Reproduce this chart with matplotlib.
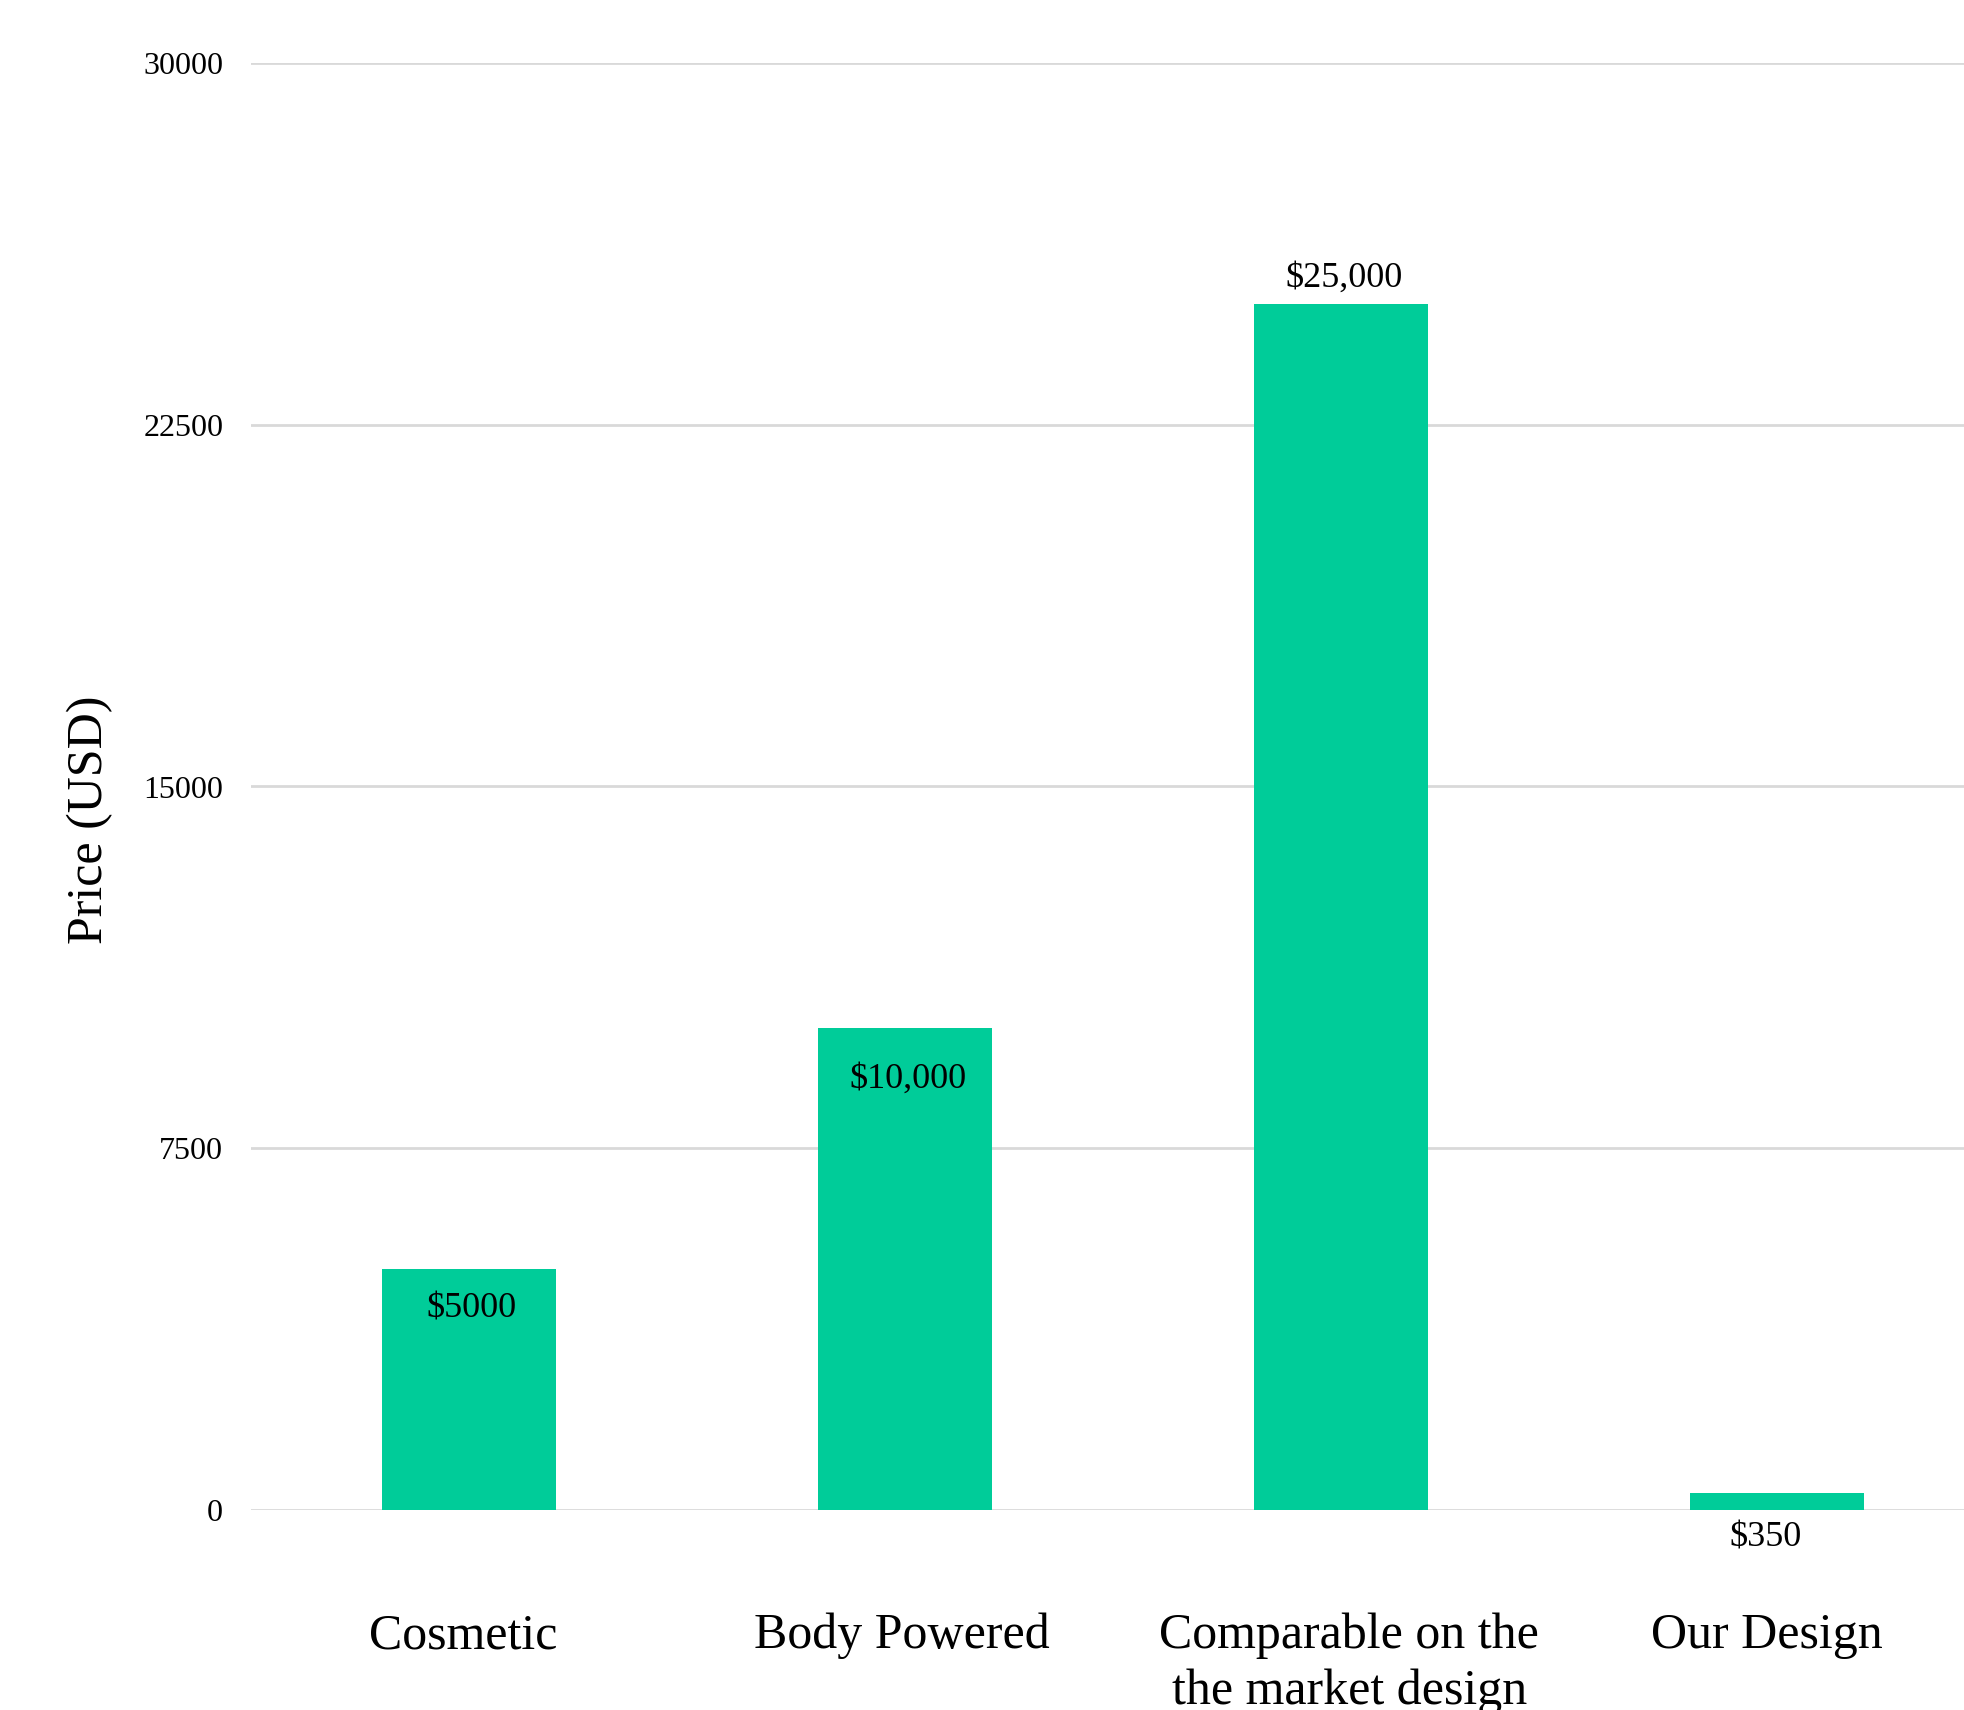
import matplotlib.pyplot as plt
from matplotlib.transforms import ScaledTranslation

categories = ["Cosmetic", "Body Powered", "Comparable on the\nthe market design", "Our Design"]
prices = [5000, 10000, 25000, 350]
price_labels = ["$5000", "$10,000", "$25,000", "$350"]
y_ticks = [0, 7500, 15000, 22500, 30000]

# label offsets from the bar top, in points (x, y)
label_offsets = [(2, -29), (2, -37), (2, 19), (-8, -32)]
# small horizontal nudges of the category labels, in points
cat_nudges = [-4, -2, 6, -7]

plt.rcParams['font.family'] = ['Liberation Serif', 'DejaVu Serif']

fig = plt.figure(figsize=(19.64, 17.10), dpi=100)
ax = fig.add_axes([251 / 1964, 200 / 1710, 1 - 251 / 1964, 1447 / 1710])

x = list(range(len(categories)))
ax.bar(x, prices, width=0.4, color='#00CC99', zorder=3)

for xi, val, lab, off in zip(x, prices, price_labels, label_offsets):
    ax.annotate(lab, (xi, val), xytext=off, textcoords='offset points',
                ha='center', va='center', fontsize=26, zorder=4)

ax.set_xlim(-0.5, 1713 / 436 - 0.5)
ax.set_ylim(0, 30000)
ax.set_yticks(y_ticks)
ax.set_yticklabels([str(t) for t in y_ticks], fontsize=23)
ax.set_xticks(x)
ax.set_xticklabels(categories, fontsize=36, linespacing=1.25)
ax.tick_params(axis='both', length=0)
ax.tick_params(axis='y', pad=20)
ax.tick_params(axis='x', pad=74)

for lbl, dx in zip(ax.get_xticklabels(), cat_nudges):
    lbl.set_transform(lbl.get_transform() + ScaledTranslation(dx / 72, 0, fig.dpi_scale_trans))

ax.yaxis.grid(True, color='#d9d9d9', linewidth=2, zorder=0)
for s in ax.spines.values():
    s.set_visible(False)

ax.set_ylabel("Price (USD)", fontsize=36, labelpad=22)
ax.yaxis.set_label_coords(-0.0805, 0.477)

fig.savefig("out.png", dpi=100)
